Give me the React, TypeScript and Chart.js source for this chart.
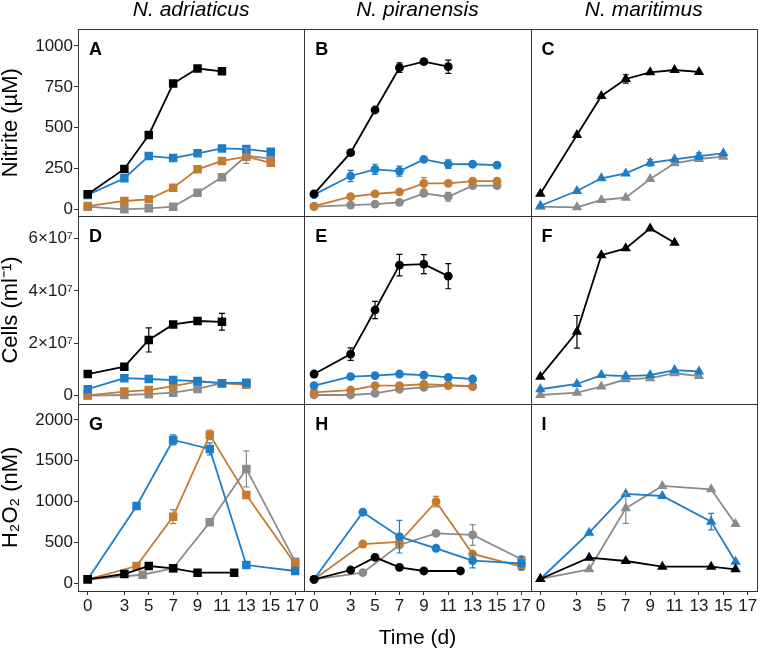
import React, { useEffect, useRef } from 'react';
import { Chart, registerables } from 'chart.js';

Chart.register(...registerables);

const FONT = "'Liberation Sans', Arial, Helvetica, sans-serif";

// ---------- labels & ticks ----------
const columnTitles = ['N. adriaticus', 'N. piranensis', 'N. maritimus'];
const rowTitles = ['Nitrite (µM)', 'Cells (ml⁻¹)', 'H₂O₂ (nM)'];
const panelLetters = ['A', 'B', 'C', 'D', 'E', 'F', 'G', 'H', 'I'];
const xTicks = [0, 3, 5, 7, 9, 11, 13, 15, 17];
const nitriteTicks = [0, 250, 500, 750, 1000];
const cellTicks = [0, 2e7, 4e7, 6e7];
const cellTickLabels = ['0', '2×10⁷', '4×10⁷', '6×10⁷'];
const h2o2Ticks = [0, 500, 1000, 1500, 2000];
const xAxisTitle = 'Time (d)';

// ---------- colours ----------
const cBlack = '#000000';
const cBlue = '#1d7dc6';
const cOrange = '#c47b31';
const cGray = '#8b8b8b';

// ---------- Panel A: N. adriaticus nitrite ----------
const daysA_black = [0, 3, 5, 7, 9, 11];
const nitA_black = [92, 247, 455, 770, 862, 845];
const daysA = [0, 3, 5, 7, 9, 11, 13, 15];
const nitA_blue = [88, 190, 326, 314, 343, 373, 369, 352];
const nitA_orange = [20, 51, 61, 132, 245, 296, 322, 285];
const nitA_gray = [16, 0, 6, 16, 102, 196, 328, 310];
const errA_gray = [0, 0, 0, 0, 0, 0, 47, 0];

// ---------- Panel B: N. piranensis nitrite ----------
const daysB_black = [0, 3, 5, 7, 9, 11];
const nitB_black = [94, 347, 608, 867, 904, 873];
const errB_black = [0, 0, 12, 29, 12, 41];
const daysB = [0, 3, 5, 7, 9, 11, 13, 15];
const nitB_blue = [90, 204, 245, 234, 306, 277, 276, 271];
const errB_blue = [0, 34, 31, 31, 0, 26, 0, 0];
const nitB_orange = [20, 77, 94, 106, 159, 159, 173, 173];
const errB_orange = [0, 0, 0, 0, 35, 0, 0, 0];
const nitB_gray = [16, 26, 32, 43, 98, 77, 145, 145];
const errB_gray = [0, 0, 0, 0, 0, 27, 0, 0];

// ---------- Panel C: N. maritimus nitrite ----------
const daysC_black = [0, 3, 5, 7, 9, 11, 13];
const nitC_black = [95, 455, 694, 798, 839, 853, 841];
const errC_black = [0, 0, 0, 26, 0, 0, 0];
const daysC = [0, 3, 5, 7, 9, 11, 13, 15];
const nitC_blue = [22, 112, 190, 220, 285, 306, 326, 343];
const errC_blue = [0, 0, 0, 0, 20, 0, 20, 0];
const nitC_gray = [16, 12, 57, 71, 185, 282, 308, 322];

// ---------- Panel D: N. adriaticus cells ----------
const daysD_black = [0, 3, 5, 7, 9, 11];
const cellD_black = [0.83e7, 1.11e7, 2.13e7, 2.72e7, 2.85e7, 2.82e7];
const errD_black = [0, 0, 0.46e7, 0, 0, 0.32e7];
const daysD = [0, 3, 5, 7, 9, 11, 13];
const cellD_blue = [0.25e7, 0.67e7, 0.64e7, 0.6e7, 0.56e7, 0.48e7, 0.5e7];
const cellD_orange = [0.02e7, 0.16e7, 0.22e7, 0.37e7, 0.54e7, 0.48e7, 0.42e7];
const cellD_gray = [0.01e7, 0.03e7, 0.06e7, 0.12e7, 0.26e7, 0.48e7, 0.45e7];

// ---------- Panel E: N. piranensis cells ----------
const daysE_black = [0, 3, 5, 7, 9, 11];
const cellE_black = [0.83e7, 1.59e7, 3.27e7, 4.98e7, 5.02e7, 4.56e7];
const errE_black = [0, 0.24e7, 0.33e7, 0.41e7, 0.36e7, 0.48e7];
const daysE = [0, 3, 5, 7, 9, 11, 13];
const cellE_blue = [0.39e7, 0.73e7, 0.77e7, 0.83e7, 0.79e7, 0.7e7, 0.64e7];
const cellE_orange = [0.13e7, 0.22e7, 0.39e7, 0.39e7, 0.44e7, 0.41e7, 0.37e7];
const cellE_gray = [0.03e7, 0.03e7, 0.09e7, 0.25e7, 0.32e7, 0.39e7, 0.35e7];

// ---------- Panel F: N. maritimus cells ----------
const daysF_black = [0, 3, 5, 7, 9, 11];
const cellF_black = [0.73e7, 2.44e7, 5.36e7, 5.62e7, 6.38e7, 5.83e7];
const errF_black = [0, 0.62e7, 0, 0, 0, 0];
const daysF = [0, 3, 5, 7, 9, 11, 13];
const cellF_blue = [0.25e7, 0.45e7, 0.79e7, 0.75e7, 0.79e7, 0.98e7, 0.93e7];
const cellF_gray = [0.03e7, 0.12e7, 0.35e7, 0.63e7, 0.67e7, 0.86e7, 0.75e7];

// ---------- Panel G: N. adriaticus H2O2 ----------
const daysG_black = [0, 3, 5, 7, 9, 12];
const h2G_black = [49, 114, 212, 184, 130, 130];
const daysG = [0, 4, 7, 10, 13, 17];
const h2G_blue = [49, 947, 1755, 1645, 224, 151];
const errG_blue = [0, 0, 61, 73, 0, 0];
const h2G_orange = [49, 212, 816, 1817, 1082, 236];
const errG_orange = [0, 0, 86, 57, 0, 0];
const daysG_gray = [0, 4.5, 7, 10, 13, 17];
const h2G_gray = [49, 105, 184, 747, 1400, 265];
const errG_gray = [0, 0, 0, 0, 220, 0];

// ---------- Panel H: N. piranensis H2O2 ----------
const daysH_black = [0, 3, 5, 7, 9, 12];
const h2H_black = [49, 163, 318, 196, 151, 151];
const daysH = [0, 4, 7, 10, 13, 17];
const h2H_blue = [49, 870, 571, 429, 277, 245];
const errH_blue = [0, 0, 200, 0, 88, 82];
const h2H_orange = [49, 481, 506, 1000, 359, 204];
const errH_orange = [0, 0, 0, 65, 0, 0];
const h2H_gray = [49, 130, 469, 612, 592, 294];
const errH_gray = [0, 0, 0, 0, 127, 0];

// ---------- Panel I: N. maritimus H2O2 ----------
const daysI = [0, 4, 7, 10, 14, 16];
const h2I_black = [53, 314, 273, 204, 204, 171];
const h2I_blue = [53, 620, 1094, 1069, 755, 265];
const errI_blue = [0, 0, 0, 0, 102, 0];
const h2I_gray = [53, 171, 918, 1192, 1151, 726];
const errI_gray = [0, 0, 184, 0, 0, 0];

const columnMarkers = ['rect', 'circle', 'triangle'];
const markerRadius: Record<string, number> = { rect: 6, circle: 4.4, triangle: 6 };

function series(col: number, row: number, days: number[], values: number[], color: string, err?: number[]) {
  const style = columnMarkers[col];
  return {
    data: days.map((d, i) => ({ x: d, y: values[i] })),
    xAxisID: 'x' + col,
    yAxisID: 'y' + row,
    borderColor: color,
    backgroundColor: color,
    pointBackgroundColor: color,
    pointBorderColor: color,
    pointBorderWidth: 0,
    pointStyle: style,
    pointRadius: markerRadius[style],
    pointHoverRadius: markerRadius[style],
    borderWidth: 1.8,
    tension: 0,
    fill: false,
    errors: err,
  };
}

const datasets = [
  // A
  series(0, 0, daysA_black, nitA_black, cBlack),
  series(0, 0, daysA, nitA_blue, cBlue),
  series(0, 0, daysA, nitA_orange, cOrange),
  series(0, 0, daysA, nitA_gray, cGray, errA_gray),
  // B
  series(1, 0, daysB_black, nitB_black, cBlack, errB_black),
  series(1, 0, daysB, nitB_blue, cBlue, errB_blue),
  series(1, 0, daysB, nitB_orange, cOrange, errB_orange),
  series(1, 0, daysB, nitB_gray, cGray, errB_gray),
  // C
  series(2, 0, daysC_black, nitC_black, cBlack, errC_black),
  series(2, 0, daysC, nitC_blue, cBlue, errC_blue),
  series(2, 0, daysC, nitC_gray, cGray),
  // D
  series(0, 1, daysD_black, cellD_black, cBlack, errD_black),
  series(0, 1, daysD, cellD_blue, cBlue),
  series(0, 1, daysD, cellD_orange, cOrange),
  series(0, 1, daysD, cellD_gray, cGray),
  // E
  series(1, 1, daysE_black, cellE_black, cBlack, errE_black),
  series(1, 1, daysE, cellE_blue, cBlue),
  series(1, 1, daysE, cellE_orange, cOrange),
  series(1, 1, daysE, cellE_gray, cGray),
  // F
  series(2, 1, daysF_black, cellF_black, cBlack, errF_black),
  series(2, 1, daysF, cellF_blue, cBlue),
  series(2, 1, daysF, cellF_gray, cGray),
  // G
  series(0, 2, daysG_black, h2G_black, cBlack),
  series(0, 2, daysG, h2G_blue, cBlue, errG_blue),
  series(0, 2, daysG, h2G_orange, cOrange, errG_orange),
  series(0, 2, daysG_gray, h2G_gray, cGray, errG_gray),
  // H
  series(1, 2, daysH_black, h2H_black, cBlack),
  series(1, 2, daysH, h2H_blue, cBlue, errH_blue),
  series(1, 2, daysH, h2H_orange, cOrange, errH_orange),
  series(1, 2, daysH, h2H_gray, cGray, errH_gray),
  // I
  series(2, 2, daysI, h2I_black, cBlack),
  series(2, 2, daysI, h2I_blue, cBlue, errI_blue),
  series(2, 2, daysI, h2I_gray, cGray, errI_gray),
];

const tickFont = { family: FONT, size: 17 };
const titleFont = { family: FONT, size: 22, lineHeight: 1 };

const axisGrid = {
  drawOnChartArea: false,
  drawTicks: true,
  tickLength: 4,
  tickColor: '#333333',
  color: '#333333',
  lineWidth: 1,
};

function makeX(col: number) {
  return {
    type: 'linear',
    position: 'bottom',
    stack: 'cols',
    stackWeight: 1,
    min: -0.8,
    max: 17.75,
    afterBuildTicks: (s: any) => {
      s.ticks = xTicks.map((v) => ({ value: v }));
    },
    afterFit: (s: any) => {
      s.height = 60;
    },
    grid: axisGrid,
    border: { display: false },
    ticks: {
      font: tickFont,
      color: '#1a1a1a',
      padding: 1,
      maxRotation: 0,
      autoSkip: false,
      callback: (_v: any, i: number) => String(xTicks[i]),
    },
    title: {
      display: col === 1,
      text: xAxisTitle,
      font: { family: FONT, size: 21, lineHeight: 1 },
      color: '#000',
      padding: { top: 0, bottom: 2.5 },
    },
  };
}

function makeY(row: number, min: number, max: number, ticks: number[], labels: string[] | null, weight: number) {
  return {
    type: 'linear',
    position: 'left',
    stack: 'rows',
    stackWeight: 1,
    weight,
    min,
    max,
    afterBuildTicks: (s: any) => {
      s.ticks = ticks.map((v) => ({ value: v }));
    },
    afterFit: (s: any) => {
      s.width = 78;
    },
    grid: axisGrid,
    border: { display: false },
    ticks: {
      font: tickFont,
      color: '#1a1a1a',
      padding: 1,
      autoSkip: false,
      callback: (_v: any, i: number) => (labels ? labels[i] : String(ticks[i])),
    },
    title: {
      display: true,
      text: rowTitles[row],
      font: titleFont,
      color: '#000',
      padding: { top: 0, bottom: 0 },
    },
  };
}

const panelPlugin = {
  id: 'facetPanels',
  afterDatasetsDraw(chart: any) {
    const ctx = chart.ctx;
    const xs = ['x0', 'x1', 'x2'].map((id) => chart.scales[id]);
    const ys = ['y0', 'y1', 'y2'].map((id) => chart.scales[id]);

    // error bars
    ctx.save();
    chart.data.datasets.forEach((ds: any) => {
      if (!ds.errors) return;
      const xs2 = chart.scales[ds.xAxisID];
      const ys2 = chart.scales[ds.yAxisID];
      ctx.strokeStyle = ds.borderColor;
      ctx.lineWidth = 1.2;
      ds.data.forEach((p: any, i: number) => {
        const e = ds.errors[i];
        if (!e) return;
        const px = xs2.getPixelForValue(p.x);
        const yLo = ys2.getPixelForValue(p.y - e);
        const yHi = ys2.getPixelForValue(p.y + e);
        ctx.beginPath();
        ctx.moveTo(px, yLo);
        ctx.lineTo(px, yHi);
        ctx.moveTo(px - 3, yLo);
        ctx.lineTo(px + 3, yLo);
        ctx.moveTo(px - 3, yHi);
        ctx.lineTo(px + 3, yHi);
        ctx.stroke();
      });
    });
    ctx.restore();

    // panel borders, letters, column titles
    ctx.save();
    ctx.strokeStyle = '#333333';
    ctx.lineWidth = 1;
    ys.forEach((y: any, r: number) => {
      xs.forEach((x: any, c: number) => {
        const l = Math.round(x.left);
        const t = Math.round(y.top);
        const w = Math.round(x.right) - l;
        const h = Math.round(y.bottom) - t;
        ctx.strokeRect(l + 0.5, t + 0.5, w, h);
        ctx.fillStyle = '#000';
        ctx.font = `bold 18px ${FONT}`;
        ctx.textAlign = 'left';
        ctx.textBaseline = 'alphabetic';
        ctx.fillText(panelLetters[r * 3 + c], x.left + 11, y.top + 26);
      });
    });
    ctx.font = `italic 21px ${FONT}`;
    ctx.textAlign = 'center';
    ctx.textBaseline = 'alphabetic';
    ctx.fillStyle = '#000';
    xs.forEach((x: any, c: number) => {
      ctx.fillText(columnTitles[c], (x.left + x.right) / 2, 16);
    });
    ctx.restore();
  },
};

export default function App() {
  const canvasRef = useRef<HTMLCanvasElement | null>(null);

  useEffect(() => {
    if (!canvasRef.current) return;
    const chart = new Chart(canvasRef.current, {
      type: 'line',
      data: { datasets: datasets as any },
      options: {
        responsive: false,
        animation: false,
        events: [],
        layout: { padding: { top: 29, right: 1, left: 0, bottom: 0 } },
        plugins: {
          legend: { display: false },
          tooltip: { enabled: false },
        },
        scales: {
          x0: makeX(0),
          x1: makeX(1),
          x2: makeX(2),
          y0: makeY(0, -43, 1104, nitriteTicks, null, 3),
          y1: makeY(1, -3.0e6, 6.84e7, cellTicks, cellTickLabels, 2),
          y2: makeY(2, -94, 2199, h2o2Ticks, null, 1),
        } as any,
      },
      plugins: [panelPlugin],
    });
    return () => chart.destroy();
  }, []);

  return (
    <div style={{ position: 'absolute', left: 0, top: 0, width: 766, height: 651, background: '#fff' }}>
      <canvas ref={canvasRef} width={766} height={651} style={{ width: 766, height: 651, display: 'block' }} />
    </div>
  );
}
